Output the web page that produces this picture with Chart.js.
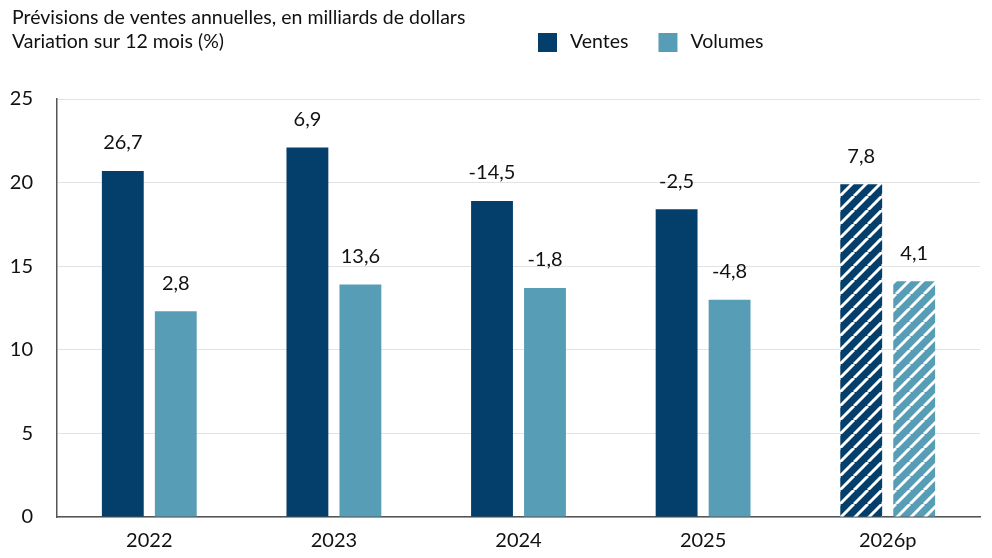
<!DOCTYPE html>
<html>
<head>
<meta charset="utf-8">
<script src="https://cdn.jsdelivr.net/npm/chart.js@4"></script>
<style>
  html, body { margin: 0; padding: 0; background: #fff; }
  #wrap { width: 992px; height: 558px; position: relative; }
</style>
</head>
<body>
<div id="wrap"><canvas id="chart"></canvas></div>
<script>
const years = ['2022', '2023', '2024', '2025', '2026p']
const ventes = [20.7, 22.1, 18.9, 18.4, 19.9]
const volumes = [12.3, 13.9, 13.7, 13.0, 14.1]
const ventesVar = ['26,7', '6,9', '-14,5', '-2,5', '7,8']
const volumesVar = ['2,8', '13,6', '-1,8', '-4,8', '4,1']
const yTicks = [0, 5, 10, 15, 20, 25]
const titleLines = ['Prévisions de ventes annuelles, en milliards de dollars', 'Variation sur 12 mois (%)']

const navy = '#033f6a'
const teal = '#589db6'
const FONT = 'Lato, "Open Sans", sans-serif'

function hatch(color) {
    let size = 14
    let c = document.createElement('canvas')
    c.width = size
    c.height = size
    let ctx = c.getContext('2d')
    ctx.fillStyle = color
    ctx.fillRect(0, 0, size, size)
    ctx.strokeStyle = '#fff'
    ctx.lineWidth = 3
    for (let o of [-size, 0, size]) {
        ctx.beginPath()
        ctx.moveTo(o, size)
        ctx.lineTo(o + size, 0)
        ctx.stroke()
    }
    return ctx.createPattern(c, 'repeat')
}

// last year is a forecast -> hatched
function fills(color) {
    return years.map((y, i) => i === years.length - 1 ? hatch(color) : color)
}

const labels = [ventesVar, volumesVar]

const headerPlugin = {
    id: 'header',
    afterDraw(chart) {
        let ctx = chart.ctx
        ctx.save()
        ctx.fillStyle = '#111'
        ctx.font = '19.5px ' + FONT
        ctx.textBaseline = 'middle'
        ctx.textAlign = 'left'
        ctx.fillText(titleLines[0], 12, 18)
        ctx.fillText(titleLines[1], 12, 42)

        // legend
        let x = 538
        chart.data.datasets.forEach(ds => {
            ctx.fillStyle = ds.legendColor
            ctx.fillRect(x, 33, 19, 19)
            ctx.fillStyle = '#111'
            ctx.fillText(ds.label, x + 32, 42)
            x += 32 + ctx.measureText(ds.label).width + 30
        })
        ctx.restore()
    }
}

const valueLabels = {
    id: 'valueLabels',
    afterDatasetsDraw(chart) {
        let ctx = chart.ctx
        ctx.save()
        ctx.fillStyle = '#111'
        ctx.font = '20px ' + FONT
        ctx.textAlign = 'center'
        ctx.textBaseline = 'middle'
        chart.data.datasets.forEach((ds, di) => {
            chart.getDatasetMeta(di).data.forEach((bar, i) => {
                ctx.fillText(labels[di][i], bar.x, bar.y - 28)
            })
        })
        ctx.restore()
    }
}

new Chart(document.getElementById('chart'), {
    type: 'bar',
    data: {
        labels: years,
        datasets: [
            { label: 'Ventes', data: ventes, backgroundColor: fills(navy), legendColor: navy },
            { label: 'Volumes', data: volumes, backgroundColor: fills(teal), legendColor: teal }
        ]
    },
    options: {
        responsive: true,
        maintainAspectRatio: false,
        animation: false,
        categoryPercentage: 0.574,
        barPercentage: 0.79,
        layout: { padding: { top: 99, right: 12, left: 0, bottom: 0 } },
        scales: {
            x: {
                afterFit: axis => { axis.height = 41 },
                grid: { display: false },
                border: { color: '#555', width: 1.5 },
                ticks: { color: '#111', font: { family: FONT, size: 20 }, padding: 4 }
            },
            y: {
                min: 0,
                max: 25,
                afterBuildTicks: axis => { axis.ticks = yTicks.map(v => ({ value: v })) },
                afterFit: axis => { axis.width = 57 },
                grid: { color: '#e2e2e2', drawTicks: false },
                border: { color: '#555', width: 1.5 },
                ticks: { color: '#111', font: { family: FONT, size: 20 }, padding: 24 }
            }
        },
        plugins: {
            legend: { display: false },
            tooltip: { enabled: false }
        }
    },
    plugins: [headerPlugin, valueLabels]
})
</script>
</body>
</html>
